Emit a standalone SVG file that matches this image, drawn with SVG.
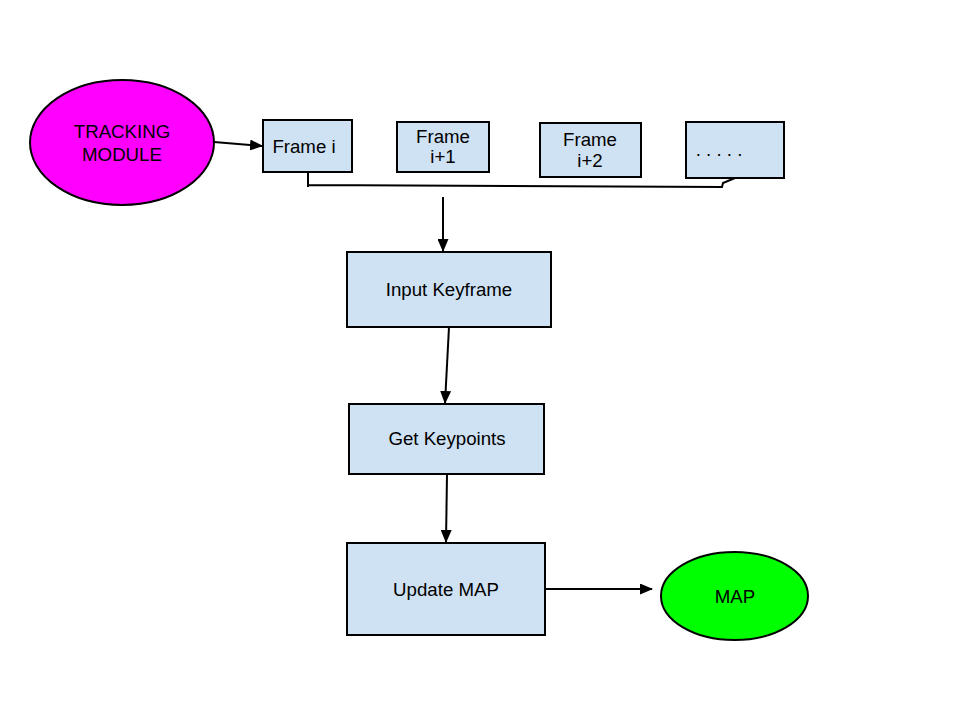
<svg xmlns="http://www.w3.org/2000/svg" width="960" height="720" viewBox="0 0 960 720">
<style>
.box{fill:#cfe2f3;stroke:#000;stroke-width:2}
.t{font-family:"Liberation Sans",Arial,sans-serif;font-size:18.67px;fill:#000;text-anchor:middle}
.c{fill:none;stroke:#000;stroke-width:2}
</style>
<defs>
<marker id="ah" markerWidth="13" markerHeight="11" refX="12" refY="5.5" orient="auto" markerUnits="userSpaceOnUse">
<path d="M0,0 L13,5.5 L0,11 Z" fill="#000"/>
</marker>
</defs>
<rect width="960" height="720" fill="#fff"/>
<g id="connectors">
<line class="c" x1="214" y1="142" x2="262" y2="146" marker-end="url(#ah)"/>
<path class="c" d="M308,172 L308,187 M308,185 L722,187 L723,183 L735,178"/>
<line class="c" x1="443" y1="197" x2="443" y2="251" marker-end="url(#ah)"/>
<line class="c" x1="449" y1="327" x2="445" y2="403" marker-end="url(#ah)"/>
<line class="c" x1="447" y1="474" x2="446" y2="542" marker-end="url(#ah)"/>
<line class="c" x1="545" y1="589" x2="652" y2="589" marker-end="url(#ah)"/>
</g>
<g id="tracking">
<ellipse cx="122" cy="142.5" rx="92" ry="62.5" fill="#ff00ff" stroke="#000" stroke-width="2"/>
<text class="t" x="122" y="138">TRACKING</text>
<text class="t" x="122" y="161">MODULE</text>
</g>
<g id="frame_i">
<rect class="box" x="263" y="120" width="89" height="52"/>
<text class="t" x="304" y="153">Frame i</text>
</g>
<g id="frame_i1">
<rect class="box" x="397" y="122" width="92" height="50"/>
<text class="t" x="443" y="143">Frame</text>
<text class="t" x="443" y="163">i+1</text>
</g>
<g id="frame_i2">
<rect class="box" x="540" y="123" width="101" height="54"/>
<text class="t" x="590" y="146">Frame</text>
<text class="t" x="590" y="167">i+2</text>
</g>
<g id="frame_more">
<rect class="box" x="686" y="122" width="98" height="56"/>
<text class="t" x="719" y="156">. . . . .</text>
</g>
<g id="input_keyframe">
<rect class="box" x="347" y="252" width="204" height="75"/>
<text class="t" x="449" y="296">Input Keyframe</text>
</g>
<g id="get_keypoints">
<rect class="box" x="349" y="404" width="195" height="70"/>
<text class="t" x="447" y="445">Get Keypoints</text>
</g>
<g id="update_map">
<rect class="box" x="347" y="543" width="198" height="92"/>
<text class="t" x="446" y="596">Update MAP</text>
</g>
<g id="map">
<ellipse cx="734.5" cy="596" rx="73.5" ry="44" fill="#00ff00" stroke="#000" stroke-width="2"/>
<text class="t" x="735" y="603">MAP</text>
</g>
</svg>
